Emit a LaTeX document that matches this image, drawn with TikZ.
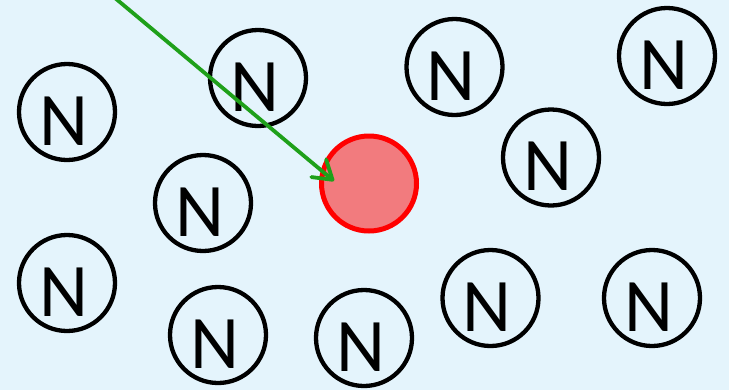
\documentclass[tikz,border=0pt]{standalone}
\usepackage{fontspec}
\setmainfont{Carlito}
\usetikzlibrary{arrows.meta}
\definecolor{bg}{HTML}{E4F4FC}
\definecolor{redfill}{HTML}{F27B7E}
\definecolor{redline}{HTML}{FF0000}
\definecolor{arrowgreen}{HTML}{1FA01A}
\tikzset{
  atom/.style={circle, draw=black, line width=4.3bp, minimum size=96bp, inner sep=0pt},
  atomtext/.style={inner sep=0pt, anchor=center, font=\fontsize{76}{80}\selectfont},
  ion/.style={circle, draw=redline, fill=redfill, line width=5bp, minimum size=95bp, inner sep=0pt},
  probe/.style={draw=arrowgreen, line width=3.8bp, line cap=round,
    -{Straight Barb[length=18bp,width=23bp,line cap=round,line join=round]}}
}
\begin{document}
\begin{tikzpicture}[x=1bp,y=-1bp]
\fill[bg] (0,0) rectangle (729,390);
\useasboundingbox (0,0) rectangle (729,390);
\foreach \n/\x/\y in {a/67/112, b/258/78, c/454.5/67, d/667/56, e/551/157.5, f/203/203, g/67/283, h/218/335, i/364/338, j/490.5/298, k/652/298}{
  \node[atom] (c\n) at (\x,\y) {};
  \node[atomtext] (t\n) at ([shift={(-3.5bp,-9bp)}]c\n.center) {N};
}
\node[ion] (ion) at (369,183.5) {};
\coordinate (src) at (115,-2);
\coordinate (tip) at (334,181);
\draw[probe] (src) -- (tip);
\end{tikzpicture}
\end{document}
